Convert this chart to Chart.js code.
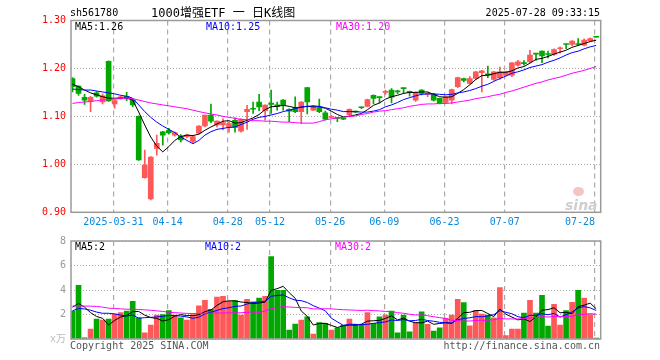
<!DOCTYPE html>
<html><head><meta charset="utf-8">
<script src="https://cdn.jsdelivr.net/npm/chart.js@4.4.1/dist/chart.umd.min.js"></script>
<style>
html,body{margin:0;padding:0;background:#fff;}
#wrap{position:relative;width:660px;height:360px;overflow:hidden;font-family:"DejaVu Sans Mono","Noto Sans CJK SC",monospace;font-size:10px;color:#000;}
canvas{position:absolute;left:0;}
.t{position:absolute;white-space:pre;line-height:12px;z-index:3;}
</style></head><body>
<div id="wrap">
<canvas id="c1" width="660" height="235" style="top:0"></canvas>
<canvas id="c2" width="660" height="125" style="top:230px"></canvas>
<div class="t" style="left:70px;top:7px;">sh561780</div>
<div class="t" style="left:151px;top:6px;font-size:12px;line-height:14px;">1000增强ETF 一 日K线图</div>
<div class="t" style="right:60px;top:7px;">2025-07-28 09:33:15</div>
<div class="t" id="l5" style="left:75px;top:21px;color:#000;"></div>
<div class="t" id="l10" style="left:206px;top:21px;color:#0000ff;"></div>
<div class="t" id="l30" style="left:336px;top:21px;color:#ff00ff;"></div>
<div class="t" id="v5" style="left:75px;top:241px;color:#000;"></div>
<div class="t" id="v10" style="left:205px;top:241px;color:#0000ff;"></div>
<div class="t" id="v30" style="left:335px;top:241px;color:#ff00ff;"></div>
<div style="position:absolute;left:573px;top:187px;width:11px;height:9px;border-radius:50%;background:#f5c4c4;z-index:2;"></div>
<div class="t" style="left:565px;top:198px;font:italic bold 14px 'DejaVu Sans';line-height:14px;color:#cfcfcf;z-index:2;">sina</div>
<div class="t" style="left:70px;top:340px;color:#555;">Copyright 2025 SINA.COM</div>
<div class="t" style="right:60px;top:340px;color:#555;">http://finance.sina.com.cn</div>
</div>
<script>
const dates = ['2025-03-20','2025-03-21','2025-03-24','2025-03-25','2025-03-26','2025-03-27','2025-03-28','2025-03-31',
'2025-04-01','2025-04-02','2025-04-03','2025-04-07','2025-04-08','2025-04-09','2025-04-10','2025-04-11','2025-04-14','2025-04-15','2025-04-16','2025-04-17','2025-04-18','2025-04-21','2025-04-22','2025-04-23','2025-04-24','2025-04-25','2025-04-28','2025-04-29','2025-04-30',
'2025-05-06','2025-05-07','2025-05-08','2025-05-09','2025-05-12','2025-05-13','2025-05-14','2025-05-15','2025-05-16','2025-05-19','2025-05-20','2025-05-21','2025-05-22','2025-05-23','2025-05-26','2025-05-27','2025-05-28','2025-05-29','2025-05-30',
'2025-06-03','2025-06-04','2025-06-05','2025-06-06','2025-06-09','2025-06-10','2025-06-11','2025-06-12','2025-06-13','2025-06-16','2025-06-17','2025-06-18','2025-06-19','2025-06-20','2025-06-23','2025-06-24','2025-06-25','2025-06-26','2025-06-27','2025-06-30',
'2025-07-01','2025-07-02','2025-07-03','2025-07-04','2025-07-07','2025-07-08','2025-07-09','2025-07-10','2025-07-11','2025-07-14','2025-07-15','2025-07-16','2025-07-17','2025-07-18','2025-07-21','2025-07-22','2025-07-23','2025-07-24','2025-07-25','2025-07-28'];

const open = [1.179,1.163,1.140,1.132,1.149,1.130,1.215,1.126,1.138,1.142,
1.134,1.100,0.972,0.928,1.033,1.068,1.071,1.061,1.059,1.0575,
1.048,1.065,1.080,1.1025,1.082,1.082,1.077,1.092,1.069,1.110,
1.116,1.130,1.112,1.128,1.124,1.134,1.115,1.118,1.110,1.160,
1.113,1.118,1.1075,1.098,1.097,1.096,1.103,1.110,1.119,1.121,
1.144,1.140,1.150,1.155,1.152,1.159,1.152,1.134,1.155,1.146,
1.146,1.1375,1.129,1.134,1.162,1.179,1.169,1.179,1.191,1.189,
1.177,1.180,1.186,1.186,1.207,1.212,1.2137,1.231,1.236,1.230,
1.229,1.241,1.251,1.250,1.252,1.2485,1.2575,1.266];
const high = [1.181,1.164,1.146,1.142,1.152,1.147,1.216,1.134,1.143,1.150,
1.136,1.101,1.030,1.016,1.061,1.069,1.075,1.068,1.062,1.063,
1.060,1.081,1.103,1.1256,1.091,1.095,1.088,1.097,1.095,1.123,
1.130,1.146,1.124,1.155,1.130,1.135,1.116,1.141,1.131,1.160,
1.123,1.136,1.111,1.102,1.098,1.097,1.116,1.111,1.120,1.136,
1.145,1.141,1.155,1.158,1.155,1.159,1.153,1.151,1.156,1.150,
1.148,1.138,1.142,1.157,1.182,1.180,1.183,1.194,1.196,1.205,
1.194,1.203,1.194,1.212,1.217,1.2165,1.238,1.231,1.237,1.236,
1.241,1.245,1.251,1.258,1.2625,1.262,1.264,1.266];
const low = [1.151,1.144,1.125,1.110,1.140,1.126,1.131,1.117,1.136,1.133,
1.120,1.008,0.971,0.926,1.019,1.040,1.063,1.059,1.047,1.055,
1.045,1.063,1.078,1.087,1.078,1.072,1.067,1.067,1.067,1.073,
1.106,1.112,1.092,1.106,1.113,1.113,1.089,1.108,1.085,1.105,
1.112,1.108,1.092,1.097,1.089,1.093,1.101,1.108,1.116,1.120,
1.126,1.128,1.146,1.128,1.147,1.148,1.142,1.131,1.145,1.141,
1.132,1.126,1.127,1.126,1.160,1.172,1.167,1.177,1.151,1.181,
1.175,1.177,1.185,1.183,1.205,1.207,1.212,1.217,1.212,1.222,
1.227,1.232,1.241,1.247,1.248,1.247,1.257,1.265];
const close = [1.162,1.148,1.134,1.140,1.142,1.143,1.1325,1.133,1.141,1.139,
1.124,1.009,0.9985,1.015,1.044,1.061,1.066,1.066,1.051,1.061,
1.058,1.080,1.1025,1.090,1.090,1.087,1.085,1.077,1.094,1.115,
1.115,1.120,1.1235,1.125,1.121,1.124,1.111,1.110,1.130,1.130,
1.120,1.110,1.094,1.100,1.096,1.094,1.1146,1.109,1.118,1.135,
1.1375,1.139,1.152,1.140,1.151,1.158,1.150,1.1496,1.148,1.148,
1.134,1.127,1.141,1.156,1.181,1.175,1.179,1.193,1.195,1.186,
1.193,1.193,1.193,1.2116,1.2137,1.210,1.2277,1.230,1.226,1.229,
1.2396,1.243,1.250,1.257,1.250,1.259,1.2625,1.265];

const ma5 = [1.167,1.162,1.155,1.149,1.145,1.141,1.138,1.138,1.138,1.138,
1.134,1.109,1.082,1.057,1.038,1.026,1.037,1.050,1.058,1.061,
1.060,1.063,1.071,1.078,1.084,1.090,1.091,1.086,1.087,1.092,
1.097,1.104,1.114,1.120,1.121,1.123,1.121,1.118,1.119,1.121,
1.120,1.120,1.117,1.111,1.104,1.099,1.100,1.103,1.106,1.114,
1.123,1.128,1.136,1.141,1.144,1.148,1.150,1.150,1.151,1.151,
1.146,1.141,1.140,1.141,1.148,1.156,1.166,1.177,1.185,1.186,
1.189,1.192,1.192,1.195,1.201,1.204,1.211,1.219,1.221,1.225,
1.230,1.234,1.238,1.244,1.248,1.252,1.256,1.259];
const ma10 = [1.157,1.156,1.155,1.155,1.153,1.151,1.149,1.147,1.144,1.142,
1.138,1.124,1.110,1.098,1.088,1.080,1.073,1.066,1.057,1.050,
1.043,1.050,1.061,1.068,1.073,1.075,1.077,1.078,1.083,1.088,
1.094,1.098,1.100,1.103,1.106,1.110,1.113,1.116,1.120,1.121,
1.122,1.121,1.118,1.115,1.113,1.110,1.110,1.110,1.109,1.109,
1.111,1.114,1.120,1.124,1.129,1.135,1.139,1.143,1.146,1.147,
1.147,1.146,1.145,1.146,1.149,1.151,1.154,1.158,1.163,1.167,
1.173,1.179,1.184,1.190,1.193,1.197,1.202,1.205,1.208,1.213,
1.217,1.222,1.228,1.233,1.236,1.241,1.245,1.248];
const ma30 = [1.127,1.129,1.130,1.131,1.133,1.134,1.135,1.136,1.137,1.138,
1.137,1.134,1.131,1.128,1.126,1.124,1.122,1.120,1.118,1.116,
1.113,1.110,1.1075,1.105,1.103,1.100,1.098,1.096,1.094,1.093,
1.091,1.091,1.090,1.090,1.089,1.088,1.088,1.087,1.086,1.086,
1.086,1.089,1.093,1.095,1.097,1.098,1.100,1.101,1.104,1.106,
1.109,1.111,1.112,1.114,1.116,1.118,1.121,1.123,1.125,1.126,
1.126,1.127,1.127,1.128,1.130,1.132,1.134,1.137,1.139,1.141,
1.144,1.146,1.150,1.153,1.157,1.161,1.165,1.169,1.172,1.176,
1.179,1.182,1.186,1.190,1.193,1.196,1.200,1.204];

const vol = [2.27,4.38,0.10,0.81,1.62,1.54,1.62,2.03,2.16,2.27,
3.08,1.73,0.51,1.14,1.95,2.00,2.32,1.95,1.73,1.54,
2.00,2.70,3.16,2.43,3.43,3.49,3.08,3.14,1.95,3.24,
3.03,3.35,3.49,6.73,3.97,3.97,0.73,1.22,1.54,1.81,
0.41,1.35,1.27,0.73,0.92,1.14,1.62,1.19,1.19,2.16,
1.27,1.81,1.95,2.27,0.51,1.95,0.59,1.35,2.22,1.19,
0.65,0.92,1.68,1.95,3.24,2.97,1.08,2.35,2.03,1.95,
1.73,4.19,0.27,0.81,0.81,2.11,3.16,2.11,3.57,1.05,
2.84,1.14,2.32,3.00,3.97,3.35,2.00,0.05];
const vma5 = [2.60,2.90,2.60,2.15,1.84,1.69,1.14,1.52,1.79,1.92,
2.23,2.25,1.95,1.75,1.68,1.47,1.58,1.87,1.99,1.91,
1.91,1.98,2.23,2.37,2.74,3.04,3.12,3.11,3.02,2.98,
2.89,2.94,3.01,3.97,4.11,4.30,3.78,3.32,2.29,1.85,
1.14,1.27,1.28,1.11,0.94,1.08,1.14,1.12,1.21,1.46,
1.49,1.52,1.68,1.89,1.56,1.70,1.45,1.33,1.32,1.46,
1.20,1.27,1.33,1.28,1.69,2.15,2.18,2.32,2.33,2.08,
1.83,2.45,2.03,1.79,1.56,1.64,1.43,1.80,2.35,2.40,
2.55,2.14,2.18,2.07,2.65,2.76,2.93,2.47];
const vma10 = [2.30,2.50,2.45,2.35,2.20,2.10,2.10,2.05,1.95,1.88,
1.96,1.70,1.74,1.77,1.80,1.85,1.92,1.91,1.87,1.80,
1.69,1.78,2.05,2.18,2.33,2.48,2.55,2.67,2.69,2.86,
2.97,3.03,3.06,3.49,3.55,3.60,3.36,3.17,3.13,2.98,
2.72,2.52,2.30,1.70,1.40,1.11,1.20,1.20,1.16,1.20,
1.28,1.33,1.40,1.55,1.51,1.59,1.49,1.51,1.61,1.51,
1.45,1.36,1.33,1.30,1.57,1.68,1.73,1.83,1.81,1.88,
1.99,2.32,2.18,2.06,1.82,1.73,1.94,1.92,2.07,1.98,
2.09,1.79,1.99,2.21,2.53,2.65,2.54,2.33];
const vma30 = [2.70,2.70,2.69,2.68,2.66,2.60,2.52,2.49,2.46,2.43,
2.43,2.41,2.38,2.35,2.30,2.25,2.18,2.15,2.12,2.09,
2.08,2.09,2.10,2.11,2.12,2.13,2.13,2.14,2.14,2.18,
2.20,2.17,2.28,2.48,2.56,2.64,2.61,2.58,2.56,2.55,
2.46,2.45,2.47,2.46,2.42,2.39,2.37,2.35,2.33,2.35,
2.32,2.29,2.25,2.25,2.15,2.10,2.02,1.96,1.97,1.90,
1.82,1.74,1.68,1.52,1.49,1.46,1.47,1.51,1.53,1.53,
1.57,1.67,1.64,1.64,1.63,1.67,1.72,1.75,1.83,1.79,
1.84,1.82,1.83,1.86,1.97,2.02,2.07,2.02];

const tickDates = ['2025-03-31','2025-04-14','2025-04-28','2025-05-12','2025-05-26','2025-06-09','2025-06-23','2025-07-07','2025-07-28'];
const priceTicks = [0.9,1.0,1.1,1.2,1.3];
const volTicks = [0,2,4,6,8];
</script>
<script>
const MONO = '"DejaVu Sans Mono","Noto Sans CJK SC",monospace';
Chart.defaults.font.family = MONO;
Chart.defaults.font.size = 10;
const RED = '#ff5858', GREEN = '#00a800', GRID = '#aaaaaa';
const colors = open.map((o, i) => close[i] >= o ? RED : GREEN);
const tickIdx = tickDates.map(d => dates.indexOf(d));
const tickText = tickDates.map((d, k) => {
  const s = k === 0 ? d : d.slice(5);
  return k === tickDates.length - 1 ? s + ' '.repeat(s.length) : s;
});
const pts = arr => arr.map((v, i) => ({x: i, y: v}));
const last = a => a[a.length - 1];
document.getElementById('l5').textContent = 'MA5:' + last(ma5).toFixed(2);
document.getElementById('l10').textContent = 'MA10:' + last(ma10).toFixed(2);
document.getElementById('l30').textContent = 'MA30:' + last(ma30).toFixed(2);
document.getElementById('v5').textContent = 'MA5:' + Math.round(last(vma5));
document.getElementById('v10').textContent = 'MA10:' + Math.round(last(vma10));
document.getElementById('v30').textContent = 'MA30:' + Math.round(last(vma30));

const framePlugin = {id: 'frame', afterDraw(chart) {
  const {ctx, chartArea: a} = chart;
  ctx.save(); ctx.strokeStyle = '#9a9a9a'; ctx.lineWidth = 1.5;
  ctx.strokeRect(a.left, a.top, a.right - a.left, a.bottom - a.top);
  ctx.restore();
}};

const lineDs = (arr, color) => ({type: 'line', data: pts(arr), borderColor: color, borderWidth: 1,
  pointRadius: 0, tension: 0, fill: false, order: 0});

function xScale(showLabels, h) {
  return {type: 'linear', min: -0.25, max: 87.75, offset: false, bounds: 'data',
    grid: {color: GRID, lineWidth: 1.2, drawTicks: false, offset: false},
    border: {display: false, dash: [5, 4]},
    afterBuildTicks: s => { s.ticks = tickIdx.map(v => ({value: v - 0.2})); },
    afterFit: s => { s.height = h; },
    ticks: {display: showLabels, autoSkip: false, maxRotation: 0, minRotation: 0, padding: 4,
      color: '#0a88dd', font: {family: MONO, size: 10}, callback: (v, k) => tickText[k]}};
}

new Chart(document.getElementById('c1'), {
  type: 'bar',
  data: {datasets: [
    lineDs(ma30, '#ff00ff'), lineDs(ma10, '#0000ff'), lineDs(ma5, '#000000'),
    {type: 'bar', data: low.map((l, i) => ({x: i, y: [l, high[i]]})), backgroundColor: colors,
      barThickness: 1, grouped: false, order: 2, minBarLength: 1},
    {type: 'bar', data: open.map((o, i) => ({x: i, y: [o, close[i]]})), backgroundColor: colors,
      barThickness: 5, grouped: false, order: 1, minBarLength: 1}
  ]},
  options: {responsive: false, animation: false, events: [],
    layout: {padding: {top: 20.5, right: 59.3, left: 0, bottom: 4.7}},
    plugins: {legend: {display: false}, tooltip: {enabled: false}},
    scales: {
      x: xScale(true, 18),
      y: {min: 0.9, max: 1.3, bounds: 'data',
        afterBuildTicks: s => { s.ticks = priceTicks.map(v => ({value: v})); },
        afterFit: s => { s.width = 71; },
        grid: {color: GRID, lineWidth: 1, drawTicks: false},
        border: {display: false, dash: [1, 2]},
        ticks: {color: '#ff0000', padding: 5, font: {family: MONO, size: 10}, callback: v => Number(v).toFixed(2)}}
    }},
  plugins: [framePlugin]
});

new Chart(document.getElementById('c2'), {
  type: 'bar',
  data: {datasets: [
    lineDs(vma30, '#ff00ff'), lineDs(vma10, '#0000ff'), lineDs(vma5, '#000000'),
    {type: 'bar', data: pts(vol), backgroundColor: colors, barThickness: 5, grouped: false, order: 1, minBarLength: 1}
  ]},
  options: {responsive: false, animation: false, events: [],
    layout: {padding: {top: 10, right: 59.3, left: 0, bottom: 16}},
    plugins: {legend: {display: false}, tooltip: {enabled: false}},
    scales: {
      x: xScale(false, 0),
      y: {min: 0, max: 8, bounds: 'data',
        afterBuildTicks: s => { s.ticks = volTicks.map(v => ({value: v})); },
        afterFit: s => { s.width = 71; },
        grid: {color: GRID, lineWidth: 1, drawTicks: false},
        border: {display: false, dash: [1, 2]},
        ticks: {padding: 5, font: {family: MONO, size: 10},
          color: c => (c.tick && c.tick.value === 0) ? '#bbbbbb' : '#999999',
          callback: v => v === 0 ? 'x万' : String(v)}}
    }},
  plugins: [framePlugin]
});
</script>
</body></html>
